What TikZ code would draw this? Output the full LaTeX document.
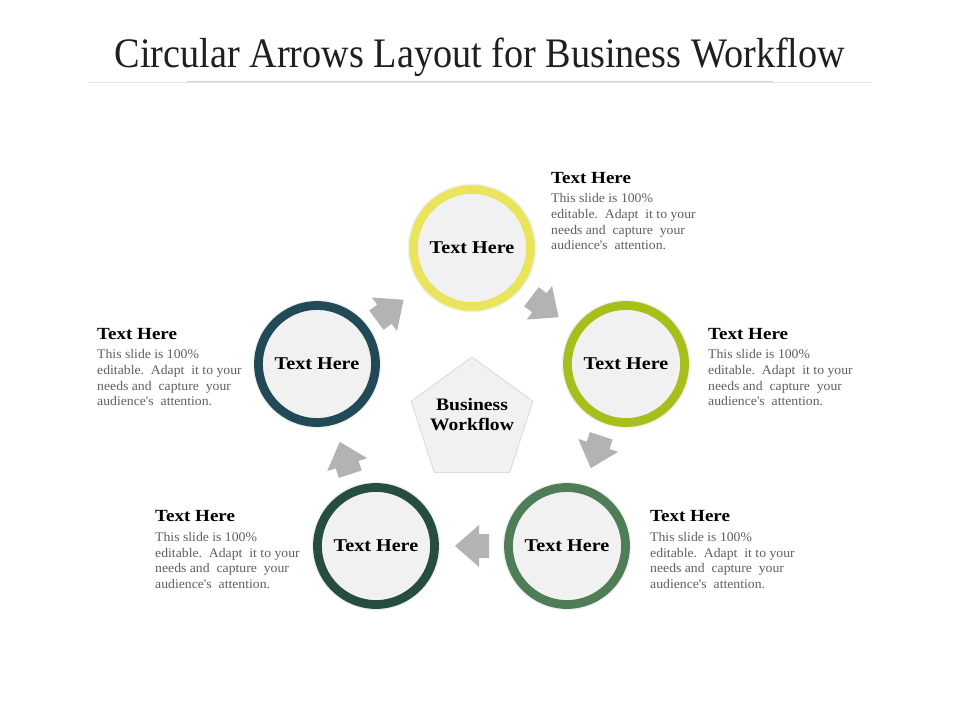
\documentclass[tikz,border=0pt]{standalone}
\usepackage{fontspec}
\setmainfont{Liberation Serif}
\newfontfamily\titlefont{Liberation Serif}[FakeStretch=0.91]
\newfontfamily\hfont{Liberation Serif}[FakeStretch=1.12]
\newfontfamily\dfont{Liberation Serif}[FakeStretch=1.04]
\usetikzlibrary{shapes.geometric}
\definecolor{cone}{HTML}{EAE45C}
\definecolor{ctwo}{HTML}{A8BE1B}
\definecolor{cthree}{HTML}{4E7D58}
\definecolor{cfour}{HTML}{264D40}
\definecolor{cfive}{HTML}{214A56}
\definecolor{arrowgray}{HTML}{B3B3B3}
\definecolor{innerfill}{HTML}{F1F1F1}
\definecolor{desccol}{HTML}{5F5F5F}
\definecolor{halo}{HTML}{EEF1F0}
\tikzset{
  ring/.style={circle, minimum size=117, inner sep=0, line width=8.8, fill=innerfill,
    font=\hfont\bfseries\fontsize{18}{20}\selectfont, text=black},
  haloring/.style={circle, minimum size=127, inner sep=0, draw=halo, line width=1.5},
  headtext/.style={anchor=base west, inner sep=0, font=\hfont\bfseries\fontsize{17}{20}\selectfont, text=black},
  desctext/.style={anchor=north west, inner sep=0, align=left, text=desccol,
    font=\dfont\fontsize{13.2}{15.7}\selectfont},
  blockarrow/.style={fill=arrowgray},
}
\newcommand{\blockarrowat}[2]{%
  \begin{scope}[shift={#1}, rotate=#2]
    \fill[blockarrow] (-17,-12) -- (-7,-12) -- (-7,-21) -- (17,0) -- (-7,21) -- (-7,12) -- (-17,12) -- cycle;
  \end{scope}}
\begin{document}
\begin{tikzpicture}[x=1pt, y=-1pt]
\useasboundingbox (0,0) rectangle (960,720);
\fill[white] (0,0) rectangle (960,720);
% title
\node[anchor=base, inner sep=0, font=\titlefont\fontsize{42}{46}\selectfont, text=black!88] (title) at (480,67) {Circular Arrows Layout for Business Workflow};
\coordinate (tl1) at (88,82);
\coordinate (tl2) at (872,82);
\coordinate (tm1) at (187,81);
\coordinate (tm2) at (773,81);
\draw[black!10, line width=1] (tl1) -- (tl2);
\draw[black!16, line width=0.8] (tm1) -- (tm2);
% pentagon
\node[regular polygon, regular polygon sides=5, minimum size=128, inner sep=0, fill=innerfill, draw=black!15, line width=0.8] (pent) at (472,421) {};
\node[align=center, inner sep=0, font=\hfont\bfseries\fontsize{17.5}{20}\selectfont] (pentlbl) at (472,415) {Business\\Workflow};
% halos
\node[haloring] (h1) at (472,248) {};
\node[haloring] (h2) at (626,364) {};
\node[haloring] (h3) at (567,546) {};
\node[haloring] (h4) at (376,546) {};
\node[haloring] (h5) at (317,364) {};
% circles
\node[ring, draw=cone] (c1) at (472,248) {Text Here};
\node[ring, draw=ctwo] (c2) at (626,364) {Text Here};
\node[ring, draw=cthree] (c3) at (567,546) {Text Here};
\node[ring, draw=cfour] (c4) at (376,546) {Text Here};
\node[ring, draw=cfive] (c5) at (317,364) {Text Here};
% arrows
\blockarrowat{(545,307)}{-37}
\blockarrowat{(596,452)}{-108}
\blockarrowat{(472,546)}{180}
\blockarrowat{(345,458)}{108}
\blockarrowat{(390,310)}{37}
% text blocks
\node[headtext] (t1h) at (551,183.5) {Text Here};
\node[desctext] (t1d) at (551,193.5) {This slide is 100\%\\editable.\ \ Adapt\ \ it to your\\needs and\ \ capture\ \ your\\audience's\ \ attention.};
\node[headtext] (t2h) at (708,339) {Text Here};
\node[desctext] (t2d) at (708,349.5) {This slide is 100\%\\editable.\ \ Adapt\ \ it to your\\needs and\ \ capture\ \ your\\audience's\ \ attention.};
\node[headtext] (t3h) at (650,521.7) {Text Here};
\node[desctext] (t3d) at (650,532) {This slide is 100\%\\editable.\ \ Adapt\ \ it to your\\needs and\ \ capture\ \ your\\audience's\ \ attention.};
\node[headtext] (t4h) at (155,521.7) {Text Here};
\node[desctext] (t4d) at (155,532) {This slide is 100\%\\editable.\ \ Adapt\ \ it to your\\needs and\ \ capture\ \ your\\audience's\ \ attention.};
\node[headtext] (t5h) at (97,339) {Text Here};
\node[desctext] (t5d) at (97,349.5) {This slide is 100\%\\editable.\ \ Adapt\ \ it to your\\needs and\ \ capture\ \ your\\audience's\ \ attention.};
\end{tikzpicture}
\end{document}
